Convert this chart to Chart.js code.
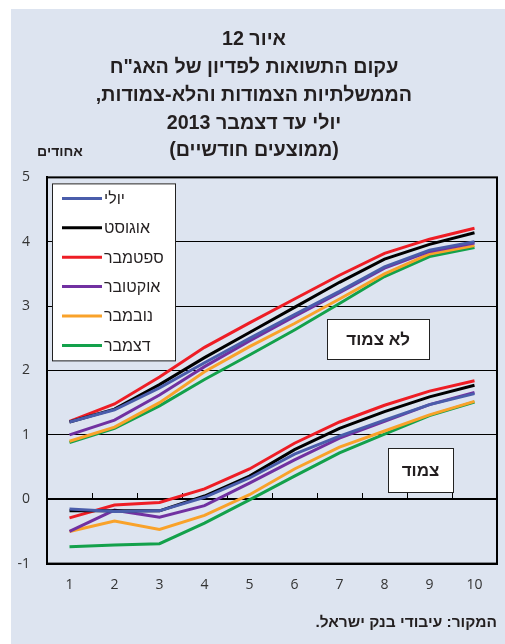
<!DOCTYPE html>
<html><head><meta charset="utf-8">
<script src="https://cdn.jsdelivr.net/npm/chart.js@4.4.1/dist/chart.umd.min.js"></script>
<style>
html,body{margin:0;padding:0;background:#fff;}
#wrap{position:absolute;left:11px;top:9px;width:494px;height:635px;background:#dde4f0;}
canvas{display:block;}
</style></head><body>
<div id="wrap"><canvas id="c" width="494" height="635"></canvas></div>
<script>
// ---- data ----
const maturities = ['1','2','3','4','5','6','7','8','9','10'];
const yTicks = [-1, 0, 1, 2, 3, 4, 5];
const monthNames = ['יולי','אוגוסט','ספטמבר','אוקטובר','נובמבר','דצמבר'];
const monthColors = ['#4a5dab','#000000','#ee1d25','#7131a1','#f9a22a','#13a14b'];

// non-indexed (לא צמוד)
const julNominal = [1.20, 1.39, 1.73, 2.12, 2.50, 2.87, 3.23, 3.61, 3.87, 4.00];
const augNominal = [1.20, 1.40, 1.78, 2.20, 2.59, 2.98, 3.37, 3.73, 3.96, 4.14];
const sepNominal = [1.21, 1.48, 1.90, 2.36, 2.74, 3.11, 3.48, 3.82, 4.04, 4.21];
const octNominal = [1.00, 1.23, 1.62, 2.06, 2.46, 2.84, 3.21, 3.59, 3.85, 3.98];
const novNominal = [0.90, 1.12, 1.50, 1.98, 2.37, 2.73, 3.11, 3.50, 3.81, 3.94];
const decNominal = [0.88, 1.10, 1.45, 1.86, 2.24, 2.63, 3.04, 3.46, 3.77, 3.91];

// CPI-indexed (צמוד)
const julIndexed = [-0.15, -0.19, -0.18, 0.03, 0.33, 0.70, 0.98, 1.23, 1.47, 1.64];
const augIndexed = [-0.18, -0.18, -0.18, 0.05, 0.36, 0.77, 1.10, 1.36, 1.59, 1.77];
const sepIndexed = [-0.29, -0.09, -0.05, 0.16, 0.47, 0.87, 1.20, 1.46, 1.68, 1.84];
const octIndexed = [-0.50, -0.17, -0.28, -0.10, 0.25, 0.61, 0.95, 1.21, 1.47, 1.66];
const novIndexed = [-0.50, -0.34, -0.47, -0.25, 0.07, 0.47, 0.81, 1.06, 1.31, 1.52];
const decIndexed = [-0.74, -0.71, -0.69, -0.37, -0.01, 0.36, 0.72, 1.01, 1.30, 1.51];

const titleLines = ['איור 12','עקום התשואות לפדיון של האג"ח','הממשלתיות הצמודות והלא-צמודות,','יולי עד דצמבר 2013','(ממוצעים חודשיים)'];
const unitLabel = 'אחודים';
const sourceNote = 'המקור: עיבודי בנק ישראל.';
const nominalLabel = 'לא צמוד';
const indexedLabel = 'צמוד';

// ---- helpers ----
const rtl = s => '\u202B' + s + '\u202C';
const nominalSeries = [julNominal, augNominal, sepNominal, octNominal, novNominal, decNominal];
const indexedSeries = [julIndexed, augIndexed, sepIndexed, octIndexed, novIndexed, decIndexed];

const datasets = [];
nominalSeries.forEach((d, i) => datasets.push({label: monthNames[i], data: d, borderColor: monthColors[i], backgroundColor: monthColors[i], borderWidth: 3, pointRadius: 0, tension: 0, fill: false}));
indexedSeries.forEach((d, i) => datasets.push({label: monthNames[i] + ' צמוד', data: d, borderColor: monthColors[i], backgroundColor: monthColors[i], borderWidth: 3, pointRadius: 0, tension: 0, fill: false}));

const overlay = {
  id: 'overlay',
  beforeDatasetsDraw(chart) {
    const {ctx, scales: {x, y}} = chart;
    const y0 = Math.round(y.getPixelForValue(0));
    ctx.save();
    ctx.strokeStyle = '#000'; ctx.lineWidth = 1;
    for (let i = 0; i <= maturities.length; i++) {
      const px = Math.round(x.getPixelForValue(i - 0.5)) + 0.5;
      ctx.beginPath(); ctx.moveTo(px, y0); ctx.lineTo(px, y0 - 6); ctx.stroke();
    }
    ctx.restore();
  },
  afterDatasetsDraw(chart) {
    const {ctx, chartArea: a, scales: {x, y}} = chart;
    ctx.save();
    // frame
    ctx.strokeStyle = '#000'; ctx.lineWidth = 2;
    ctx.strokeRect(a.left, a.top, a.right - a.left, a.bottom - a.top);
    // legend box
    const lx = a.left + 5, ly = a.top + 6, lw = 123, lh = 177;
    ctx.fillStyle = '#fff'; ctx.fillRect(lx, ly, lw, lh);
    ctx.lineWidth = 1; ctx.strokeStyle = '#222';
    ctx.strokeRect(lx + 0.5, ly + 0.5, lw, lh);
    ctx.font = '16px "Liberation Sans", Arial, sans-serif';
    ctx.textBaseline = 'middle'; ctx.textAlign = 'left';
    for (let i = 0; i < monthNames.length; i++) {
      const cy = ly + 15 + i * 29.4;
      ctx.strokeStyle = monthColors[i]; ctx.lineWidth = 3;
      ctx.beginPath(); ctx.moveTo(lx + 10, cy); ctx.lineTo(lx + 50, cy); ctx.stroke();
      ctx.fillStyle = '#231f20';
      ctx.fillText(rtl(monthNames[i]), lx + 52, cy + 1);
    }
    // group label boxes
    const box = (text, xv, yv, w, h) => {
      const cx = x.getPixelForValue(xv), cy = y.getPixelForValue(yv);
      const bx = Math.round(cx - w / 2) + 0.5, by = Math.round(cy - h / 2) + 0.5;
      ctx.fillStyle = '#fff'; ctx.fillRect(bx, by, w, h);
      ctx.strokeStyle = '#222'; ctx.lineWidth = 1; ctx.strokeRect(bx, by, w, h);
      ctx.fillStyle = '#231f20';
      ctx.font = 'bold 17px "Liberation Sans", Arial, sans-serif';
      ctx.textAlign = 'center'; ctx.textBaseline = 'middle';
      ctx.fillText(rtl(text), cx, cy + 1);
    };
    box(nominalLabel, 6.86, 2.49, 102, 40);
    box(indexedLabel, 7.8, 0.45, 65, 44);
    // unit label
    ctx.fillStyle = '#231f20';
    ctx.font = 'bold 14px "Liberation Sans", Arial, sans-serif';
    ctx.textAlign = 'center'; ctx.textBaseline = 'middle';
    ctx.fillText(rtl(unitLabel), a.left + 13, a.top - 25);
    ctx.restore();
  }
};

new Chart(document.getElementById('c'), {
  type: 'line',
  data: {labels: maturities, datasets},
  options: {
    responsive: false,
    animation: false,
    devicePixelRatio: 1,
    layout: {padding: {left: 0, right: 8, top: 0, bottom: 0}},
    plugins: {
      legend: {display: false},
      tooltip: {enabled: false},
      title: {
        display: true,
        text: titleLines.map(rtl),
        color: '#231f20',
        font: {family: '"Liberation Sans", Arial, sans-serif', size: 19.7, weight: 'bold', lineHeight: 1.41},
        padding: {top: 17, bottom: 12.5}
      },
      subtitle: {
        display: true,
        position: 'bottom',
        align: 'end',
        text: rtl(sourceNote),
        color: '#231f20',
        font: {family: '"Liberation Sans", Arial, sans-serif', size: 15.5, weight: 'bold', lineHeight: 1.2},
        padding: {top: 7.5, bottom: 11.5}
      }
    },
    scales: {
      x: {
        type: 'category',
        offset: true,
        grid: {display: false, drawTicks: false},
        border: {display: true, color: '#000', width: 2},
        ticks: {color: '#333', padding: 13, font: {family: '"Open Sans", sans-serif', size: 14}, maxRotation: 0}
      },
      y: {
        min: -1, max: 5,
        afterBuildTicks: s => { s.ticks = yTicks.map(v => ({value: v})); },
        afterFit: s => { s.width = 36; },
        grid: {color: '#000', lineWidth: c => (c.tick && c.tick.value === 0 ? 2 : 1), drawTicks: false},
        border: {display: true, color: '#000', width: 2},
        ticks: {color: '#333', padding: 17, font: {family: '"Open Sans", sans-serif', size: 14}}
      }
    }
  },
  plugins: [overlay]
});
</script>
</body></html>
